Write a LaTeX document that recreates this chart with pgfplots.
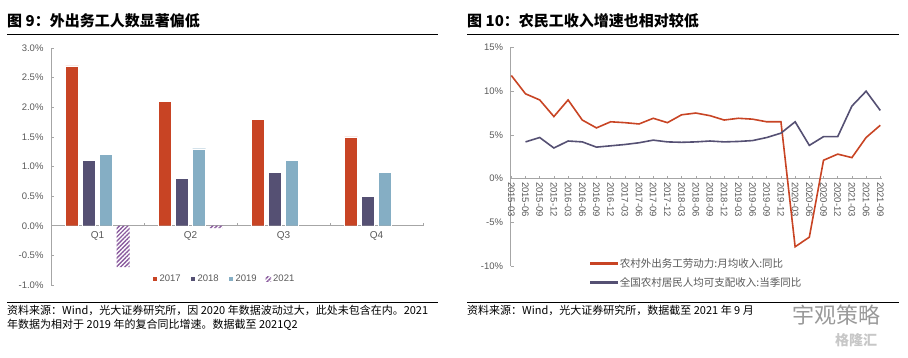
\documentclass[border=0pt]{standalone}
\usepackage{fontspec}
\setmainfont{Liberation Sans}
\newfontfamily\cjk{Noto Sans CJK SC}
\usepackage{pgfplots}
\pgfplotsset{compat=1.18}
\usetikzlibrary{patterns.meta}
\definecolor{cred}{HTML}{C84424}
\definecolor{cdark}{HTML}{555073}
\definecolor{clight}{HTML}{85AEC4}
\definecolor{chatch}{HTML}{8A5A9E}
\definecolor{tgray}{HTML}{595959}
\definecolor{agray}{HTML}{A6A6A6}
\pgfplotstableread{
i r b
0 11.8 nan
1 9.7 4.2
2 9.0 4.7
3 7.1 3.5
4 9.0 4.3
5 6.7 4.2
6 5.8 3.6
7 6.5 3.75
8 6.4 3.9
9 6.25 4.1
10 6.9 4.4
11 6.4 4.2
12 7.3 4.15
13 7.5 4.2
14 7.2 4.3
15 6.7 4.2
16 6.9 4.25
17 6.8 4.35
18 6.5 4.7
19 6.5 5.2
20 -7.8 6.5
21 -6.7 3.8
22 2.1 4.8
23 2.8 4.8
24 2.4 8.3
25 4.7 10.0
26 6.1 7.8
}\incometable
\begin{document}
\begin{tikzpicture}
\useasboundingbox (0pt,0pt) rectangle (908pt,358pt);
% ---- titles and rules
\node[anchor=west, inner sep=0pt, font=\cjk\bfseries\fontsize{15}{17}\selectfont] at (7pt,337pt) {图 9：外出务工人数显著偏低};
\draw[line width=1pt] (7pt,323.5pt) -- (438pt,323.5pt);
\node[anchor=west, inner sep=0pt, font=\cjk\bfseries\fontsize{15}{17}\selectfont] at (467pt,337pt) {图 10：农民工收入增速也相对较低};
\draw[line width=1pt] (467pt,323.5pt) -- (899pt,323.5pt);
\draw[line width=0.8pt] (7pt,55.7pt) -- (438pt,55.7pt);
\draw[line width=0.8pt] (467pt,55.7pt) -- (899pt,55.7pt);
\node[anchor=west, inner sep=0pt, font=\cjk\fontsize{11}{13}\selectfont] at (7pt,47.3pt) {资料来源：Wind，光大证券研究所，因 2020 年数据波动过大，此处未包含在内。2021};
\node[anchor=west, inner sep=0pt, font=\cjk\fontsize{11}{13}\selectfont] at (7pt,33pt) {年数据为相对于 2019 年的复合同比增速。数据截至 2021Q2};
\node[anchor=west, inner sep=0pt, font=\cjk\fontsize{11}{13}\selectfont] at (467pt,47.3pt) {资料来源：Wind，光大证券研究所，数据截至 2021 年 9 月};
\node[anchor=west, inner sep=0pt, font=\cjk\fontsize{22}{24}\selectfont, text=black!40] at (792pt,43pt) {宇观策略};
\node[anchor=west, inner sep=0pt, font=\cjk\bfseries\fontsize{14}{16}\selectfont, text=black!22] at (835pt,18pt) {格隆汇};
% ---- left chart
\begin{axis}[
  at={(51pt,73pt)}, anchor=south west, scale only axis,
  width=372pt, height=237pt,
  xmin=-0.5, xmax=3.5, ymin=-1, ymax=3,
  axis x line*=middle, axis y line*=left,
  axis line style={agray, line width=0.8pt},
  /pgf/number format/assume math mode=true,
  ybar=4pt, bar width=13pt,
  ytick={-1,-0.5,0,0.5,1,1.5,2,2.5,3},
  yticklabel={\pgfmathprintnumber[fixed,fixed zerofill,precision=1]{\tick}\%},
  yticklabel style={font=\fontsize{9.5}{11}\selectfont, text=tgray, xshift=-4pt},
  xtick={-0.5,0.5,1.5,2.5,3.5}, xticklabels={},
  extra x ticks={0,1,2,3}, extra x tick labels={Q1,Q2,Q3,Q4},
  extra x tick style={major tick length=0pt},
  xticklabel style={font=\fontsize{10}{12}\selectfont, text=tgray, yshift=-2pt},
  tick align=inside, major tick length=3pt,
  tick style={agray, line width=0.6pt},
  legend columns=4,
  legend style={draw=none, fill=none, at={(0.465,0.025)}, anchor=center,
    font=\fontsize{9.5}{11}\selectfont, text=tgray,
    /tikz/every even column/.append style={column sep=7pt}},
  legend image code/.code={\path[#1] (0pt,-2.6pt) rectangle (5.5pt,2.6pt);},
]
\addplot[fill=cred, draw=white, line width=0.4pt] coordinates {(0,2.7) (1,2.1) (2,1.8) (3,1.5)};
\addplot[fill=cdark, draw=white, line width=0.4pt] coordinates {(0,1.1) (1,0.8) (2,0.9) (3,0.5)};
\addplot[fill=clight, draw=white, line width=0.4pt] coordinates {(0,1.2) (1,1.3) (2,1.1) (3,0.9)};
\addplot[draw=none, pattern={Lines[angle=45,distance=3pt,line width=1.4pt]}, pattern color=chatch] coordinates {(0,-0.7) (1,-0.04)};
\legend{2017,2018,2019,2021}
\end{axis}
% ---- right chart
\begin{axis}[
  at={(510.6pt,92pt)}, anchor=south west, scale only axis,
  width=371.1pt, height=218.5pt,
  xmin=-0.05, xmax=26.1, ymin=-10, ymax=15,
  axis x line*=middle, axis y line*=left,
  axis line style={agray, line width=0.8pt},
  /pgf/number format/assume math mode=true,
  ytick={-10,-5,0,5,10,15},
  yticklabel={\pgfmathprintnumber{\tick}\%},
  yticklabel style={font=\fontsize{9.5}{11}\selectfont, text=tgray, xshift=-4pt},
  xtick={0,...,26},
  xticklabels={2015-03,2015-06,2015-09,2015-12,2016-03,2016-06,2016-09,2016-12,2017-03,2017-06,2017-09,2017-12,2018-03,2018-06,2018-09,2018-12,2019-03,2019-06,2019-09,2019-12,2020-03,2020-06,2020-09,2020-12,2021-03,2021-06,2021-09},
  xticklabel style={rotate=-90, anchor=west, font=\fontsize{9.5}{11}\selectfont, text=tgray},
  tick align=inside, major tick length=3pt,
  tick style={agray, line width=0.6pt},
  legend cell align=left,
  legend style={draw=none, at={(0.206,-0.119)}, anchor=south west,
    font=\cjk\fontsize{10.5}{12}\selectfont, row sep=4.5pt},
]
\addplot[draw=cred, line width=1.6pt, legend image code/.code={\fill[cred] (0pt,-0.9pt) rectangle (26pt,0.9pt);}] table[x=i, y=r] {\incometable};
\addlegendentry{\textcolor{tgray}{农村外出务工劳动力:月均收入:同比}}
\addplot[draw=cdark, line width=1.6pt, unbounded coords=jump, legend image code/.code={\fill[cdark] (0pt,-0.9pt) rectangle (26pt,0.9pt);}] table[x=i, y=b] {\incometable};
\addlegendentry{\textcolor{tgray}{全国农村居民人均可支配收入:当季同比}}
\end{axis}
\end{tikzpicture}
\end{document}
